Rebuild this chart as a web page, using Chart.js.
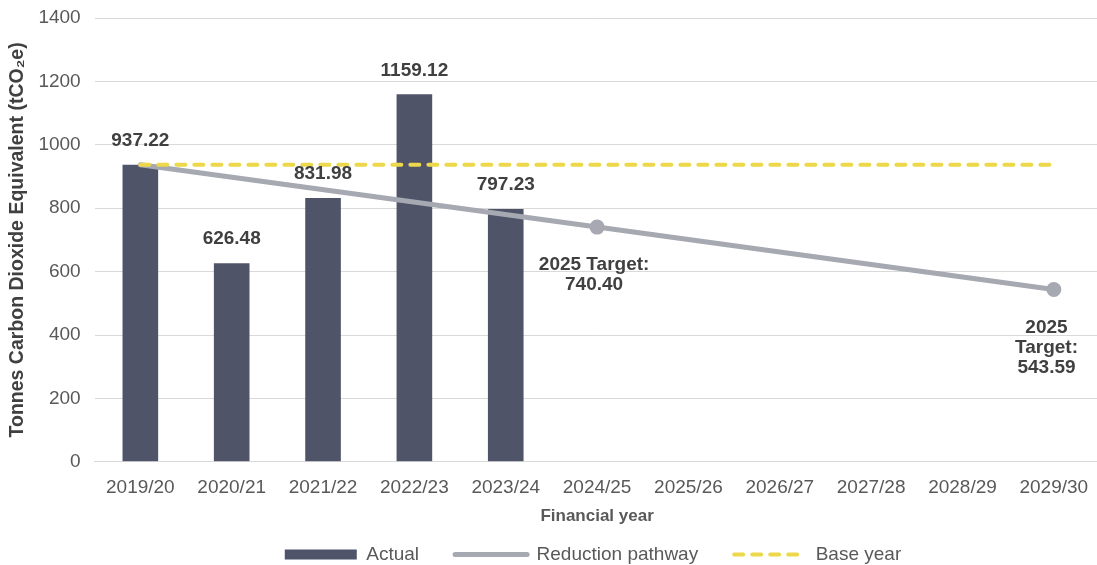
<!DOCTYPE html>
<html>
<head>
<meta charset="utf-8">
<title>Carbon emissions by financial year</title>
<script src="https://cdn.jsdelivr.net/npm/chart.js@4.4.1/dist/chart.umd.min.js"></script>
<style>
    html, body { margin: 0; padding: 0; background: #fff; overflow: hidden; }
    #wrap { width: 1107px; height: 565px; position: relative; }
</style>
</head>
<body>
<div id="wrap"><canvas id="emissionsChart"></canvas></div>
<script>
// Financial years on the x axis
const years = ['2019/20', '2020/21', '2021/22', '2022/23', '2023/24', '2024/25',
               '2025/26', '2026/27', '2027/28', '2028/29', '2029/30'];

// Measured emissions (tCO2e)
const actual = [937.22, 626.48, 831.98, 1159.12, 797.23, null, null, null, null, null, null];

// Reduction pathway: base year, interim target and final target
const pathway = [937.22, null, null, null, null, 740.40, null, null, null, null, 543.59];

// Base year level carried across the whole period
const baseYear = [937.22, null, null, null, null, null, null, null, null, null, 937.22];

// Notes shown under the pathway targets
const pathwayNotes = [null, null, null, null, null, ['2025 Target:', '740.40'],
                      null, null, null, null, ['2025', 'Target:', '543.59']];

const yTicks = [0, 200, 400, 600, 800, 1000, 1200, 1400];

const FONT = '"Liberation Sans", Arial, sans-serif';

// Draws the value above each bar and the target notes under the pathway points
const valueLabels = {
    id: 'valueLabels',
    afterDatasetsDraw(chart) {
        const ctx = chart.ctx;
        ctx.save();
        ctx.font = 'bold 19px ' + FONT;
        ctx.fillStyle = '#404040';
        ctx.textAlign = 'center';
        ctx.textBaseline = 'middle';

        chart.getDatasetMeta(0).data.forEach(function(bar, i) {
            if (actual[i] == null) return;
            ctx.fillText(actual[i].toFixed(2), bar.x, bar.y - 24);
        });

        chart.getDatasetMeta(1).data.forEach(function(pt, i) {
            const lines = pathwayNotes[i];
            if (!lines) return;
            const widest = Math.max.apply(null, lines.map(l => ctx.measureText(l).width));
            // keep the note inside the visible area
            const x = Math.min(pt.x - 3, 1078 - widest / 2);
            lines.forEach(function(line, j) {
                ctx.fillText(line, x, pt.y + 38 + j * 20);
            });
        });
        ctx.restore();
    }
};

// Legend sits a little right of centre, under the plot
const legendShift = {
    id: 'legendShift',
    afterLayout(chart) {
        chart.legend.left += 38;
        chart.legend.right += 38;
    }
};

const ctx = document.getElementById('emissionsChart');

new Chart(ctx, {
    type: 'bar',
    data: {
        labels: years,
        datasets: [{
            type: 'bar',
            label: 'Actual',
            data: actual,
            backgroundColor: '#4f5469',
            barPercentage: 0.78,
            categoryPercentage: 0.5,
            order: 3
        }, {
            type: 'line',
            label: 'Reduction pathway',
            data: pathway,
            spanGaps: true,
            borderColor: '#a6a8b2',
            backgroundColor: '#a6a8b2',
            borderWidth: 5,
            borderCapStyle: 'round',
            pointRadius: pathway.map((v, i) => (i > 0 && v != null) ? 7.5 : 0),
            pointBorderWidth: 0,
            pointHoverRadius: 0,
            order: 2
        }, {
            type: 'line',
            label: 'Base year',
            data: baseYear,
            spanGaps: true,
            borderColor: '#ecd84a',
            backgroundColor: '#ecd84a',
            borderWidth: 4,
            borderDash: [9, 9],
            borderCapStyle: 'round',
            pointRadius: 0,
            pointHoverRadius: 0,
            order: 1
        }]
    },
    options: {
        responsive: true,
        maintainAspectRatio: false,
        animation: false,
        layout: {
            padding: { top: 18, left: 4, right: 1, bottom: 0 }
        },
        plugins: {
            tooltip: { enabled: false },
            legend: {
                position: 'bottom',
                maxHeight: 56,
                labels: {
                    usePointStyle: true,
                    pointStyleWidth: 72,
                    boxHeight: 10,
                    padding: 36,
                    color: '#595959',
                    font: { family: FONT, size: 19 },
                    sort: (a, b) => a.datasetIndex - b.datasetIndex,
                    generateLabels: function(chart) {
                        const items = Chart.defaults.plugins.legend.labels.generateLabels(chart);
                        items.forEach(function(item) {
                            const ds = chart.data.datasets[item.datasetIndex];
                            if (ds.type === 'bar') {
                                item.pointStyle = 'rect';
                                item.lineWidth = 0;
                            } else {
                                item.pointStyle = 'line';
                                item.strokeStyle = ds.borderColor;
                                item.lineWidth = ds.borderWidth;
                                item.lineDash = ds.borderDash || [];
                                item.lineCap = 'round';
                            }
                        });
                        return items;
                    }
                }
            }
        },
        scales: {
            x: {
                grid: { display: false, drawTicks: false },
                border: { color: '#d9d9d9', width: 1 },
                ticks: {
                    color: '#595959',
                    font: { family: FONT, size: 19 },
                    padding: 15,
                    maxRotation: 0,
                    autoSkip: false
                },
                title: {
                    display: true,
                    text: 'Financial year',
                    color: '#595959',
                    font: { family: FONT, size: 17, weight: 'bold' },
                    padding: { top: -8, bottom: -18 }
                }
            },
            y: {
                min: 0,
                max: 1400,
                afterBuildTicks: function(scale) {
                    scale.ticks = yTicks.map(v => ({ value: v }));
                },
                // invisible tick marks keep the labels clear of the plot
                grid: { color: '#d9d9d9', lineWidth: 1, drawTicks: true, tickLength: 14, tickColor: 'rgba(0,0,0,0)' },
                border: { display: false },
                ticks: {
                    color: '#595959',
                    font: { family: FONT, size: 19 },
                    padding: 0,
                    callback: v => String(v)
                },
                title: {
                    display: true,
                    text: 'Tonnes Carbon Dioxide Equivalent (tCO\u2082e)',
                    color: '#404040',
                    font: { family: FONT, size: 19.5, weight: 'bold' },
                    padding: { top: 2, bottom: 9 }
                }
            }
        }
    },
    plugins: [valueLabels, legendShift]
});
</script>
</body>
</html>
